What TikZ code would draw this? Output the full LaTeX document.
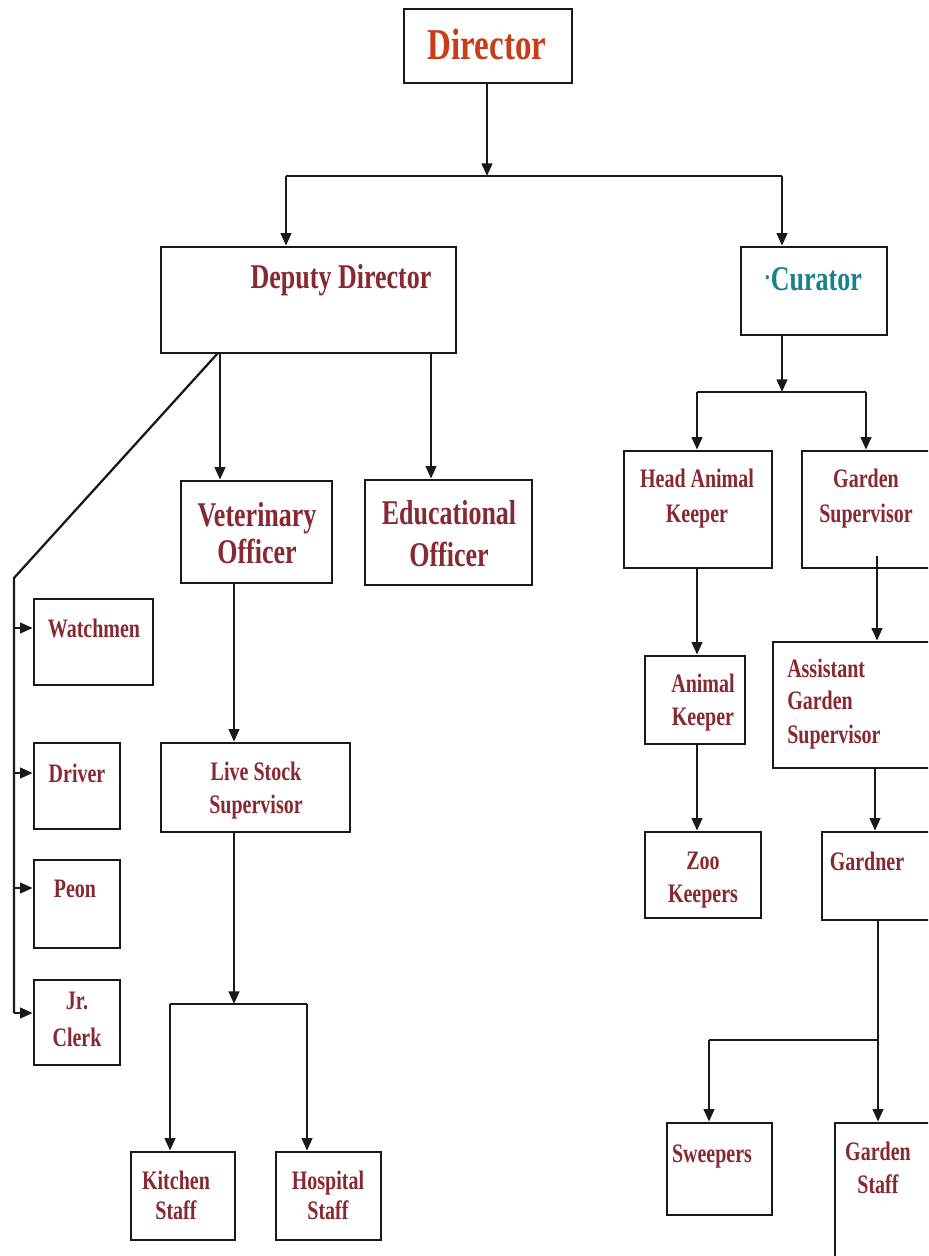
\documentclass[tikz,border=0pt]{standalone}
\usepackage{fontspec}
\newfontfamily\tf{Liberation Serif Bold}[FakeStretch=0.75]
\usetikzlibrary{fit,arrows.meta}
\definecolor{txtred}{RGB}{135,40,50}
\definecolor{dirred}{RGB}{200,60,25}
\definecolor{curteal}{RGB}{25,130,135}
\begin{document}
\begin{tikzpicture}[x=0.75pt,y=-0.75pt,
  box/.style={draw=black!90, line width=2pt, inner sep=0pt, fit={#1}},
  big/.style={font=\tf\fontsize{26}{28}\selectfont, text=txtred, anchor=base, inner sep=0pt},
  small/.style={font=\tf\fontsize{20}{24}\selectfont, text=txtred, anchor=base, inner sep=0pt},
  ln/.style={draw=black!90, line width=1.7pt},
  arr/.style={ln, -{Triangle[length=9.5pt,width=8pt]}}]
\useasboundingbox (0,0) rectangle (928,1256);
\clip (0,0) rectangle (928,1256);
\fill[white] (0,0) rectangle (928,1256);

% boxes
\node[box={(404,9)(572,83)}] (dir) {};
\node[box={(161,247)(456,353)}] (dd) {};
\node[box={(741,247)(887,335)}] (cur) {};
\node[box={(181,481)(332,583)}] (vet) {};
\node[box={(365,480)(532,585)}] (edu) {};
\node[box={(34,599)(153,685)}] (watch) {};
\node[box={(34,743)(120,829)}] (driver) {};
\node[box={(34,860)(120,948)}] (peon) {};
\node[box={(34,980)(120,1065)}] (clerk) {};
\node[box={(161,743)(350,832)}] (ls) {};
\node[box={(131,1152)(235,1240)}] (kit) {};
\node[box={(276,1152)(381,1240)}] (hosp) {};
\node[box={(624,451)(772,568)}] (hak) {};
\node[box={(802,451)(945,568)}] (gs) {};
\node[box={(645,656)(745,744)}] (ak) {};
\node[box={(645,832)(761,918)}] (zk) {};
\node[box={(773,642)(945,768)}] (ags) {};
\node[box={(822,832)(945,920)}] (gard) {};
\node[box={(667,1123)(772,1215)}] (sw) {};
\node[box={(835,1123)(945,1275)}] (gst) {};

% texts
\node[big, font=\tf\fontsize{33}{36}\selectfont, text=dirred] (tdir) at (487,60) {Director};
\node[big] (tdd) at (341,288) {Deputy Director};
\node[big, text=curteal] (tcur) at (813,290) {{\fontsize{20}{20}\selectfont\raisebox{0.3ex}{·}}Curator};
\node[big] (tvet1) at (257,526) {Veterinary};
\node[big] (tvet2) at (257,563) {Officer};
\node[big] (tedu1) at (449,524) {Educational};
\node[big] (tedu2) at (449,566) {Officer};
\node[small] (twat) at (94,637) {Watchmen};
\node[small] (tdri) at (77,782) {Driver};
\node[small] (tpeo) at (75,897) {Peon};
\node[small] (tclk1) at (77,1009) {Jr.};
\node[small] (tclk2) at (77,1046) {Clerk};
\node[small] (tls1) at (256,780) {Live Stock};
\node[small] (tls2) at (256,813) {Supervisor};
\node[small] (tkit1) at (176,1189) {Kitchen};
\node[small] (tkit2) at (176,1219) {Staff};
\node[small] (thos1) at (328,1189) {Hospital};
\node[small] (thos2) at (328,1219) {Staff};
\node[small] (thak1) at (697,487) {Head Animal};
\node[small] (thak2) at (697,522) {Keeper};
\node[small] (tgs1) at (866,487) {Garden};
\node[small] (tgs2) at (866,522) {Supervisor};
\node[small] (tak1) at (703,692) {Animal};
\node[small] (tak2) at (703,725) {Keeper};
\node[small] (tzk1) at (703,869) {Zoo};
\node[small] (tzk2) at (703,902) {Keepers};
\node[small, anchor=base west] (tags1) at (787,677) {Assistant};
\node[small, anchor=base west] (tags2) at (787,709) {Garden};
\node[small, anchor=base west] (tags3) at (787,743) {Supervisor};
\node[small] (tgar) at (867,870) {Gardner};
\node[small] (tsw) at (712,1162) {Sweepers};
\node[small] (tgst1) at (878,1160) {Garden};
\node[small] (tgst2) at (878,1193) {Staff};

% junction coordinates
\coordinate (j1) at (487,176);
\coordinate (jl) at (286,176);
\coordinate (jr) at (782,176);
\coordinate (cV) at (220,0);
\coordinate (cE) at (431,0);
\coordinate (dg1) at (218,353);
\coordinate (dg2) at (14,578);
\coordinate (sp) at (14,1013);
\coordinate (a1) at (14,628);
\coordinate (a2) at (14,773);
\coordinate (a3) at (14,888);
\coordinate (cL) at (234,0);
\coordinate (j2) at (234,1004);
\coordinate (j2l) at (170,1004);
\coordinate (j2r) at (307,1004);
\coordinate (j3) at (782,392);
\coordinate (j3l) at (697,392);
\coordinate (j3r) at (866,392);
\coordinate (cG) at (877,556);
\coordinate (cA) at (875,0);
\coordinate (cGd) at (878,0);
\coordinate (j4) at (878,1040);
\coordinate (j4l) at (709,1040);

% connectors
\draw[arr] (dir.south -| j1) -- (j1);
\draw[ln] (jl) -- (jr);
\draw[arr] (jl) -- (jl |- dd.north);
\draw[arr] (jr) -- (jr |- cur.north);

\draw[arr] (cV |- dd.south) -- (cV |- vet.north);
\draw[arr] (cE |- dd.south) -- (cE |- edu.north);
\draw[ln] (dg1) -- (dg2) -- (sp);
\draw[arr] (a1) -- (a1 -| watch.west);
\draw[arr] (a2) -- (a2 -| driver.west);
\draw[arr] (a3) -- (a3 -| peon.west);
\draw[arr] (sp) -- (sp -| clerk.west);

\draw[arr] (cL |- vet.south) -- (cL |- ls.north);
\draw[arr] (cL |- ls.south) -- (j2);
\draw[ln] (j2l) -- (j2r);
\draw[arr] (j2l) -- (j2l |- kit.north);
\draw[arr] (j2r) -- (j2r |- hosp.north);

\draw[arr] (cur.south -| j3) -- (j3);
\draw[ln] (j3l) -- (j3r);
\draw[arr] (j3l) -- (j3l |- hak.north);
\draw[arr] (j3r) -- (j3r |- gs.north);
\draw[arr] (j3l |- hak.south) -- (j3l |- ak.north);
\draw[arr] (j3l |- ak.south) -- (j3l |- zk.north);
\draw[arr] (cG) -- (cG |- ags.north);
\draw[arr] (cA |- ags.south) -- (cA |- gard.north);
\draw[arr] (cGd |- gard.south) -- (cGd |- gst.north);
\draw[ln] (j4) -- (j4l);
\draw[arr] (j4l) -- (j4l |- sw.north);
\end{tikzpicture}
\end{document}
